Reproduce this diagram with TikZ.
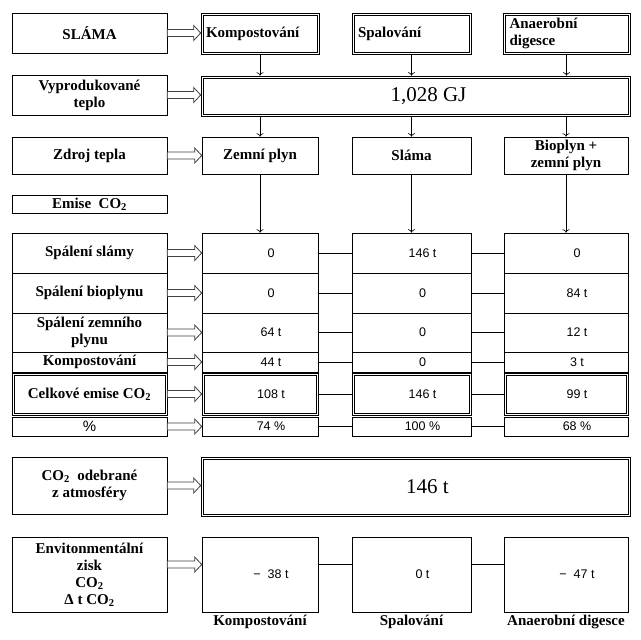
\documentclass[tikz,border=0pt]{standalone}
\usepackage{fontspec}
\setmainfont{Liberation Serif}
\newfontfamily\zahlfont{Liberation Sans}
\usetikzlibrary{positioning, calc, arrows.meta}
\newcommand{\cotwo}{CO\textsubscript{2}}
\tikzset{
    kasten/.style={
        draw=black,          % schlichte schwarze Kontur
        line width=0.6pt,
        align=center,
        inner sep=2pt,
        font=\fontsize{15}{17}\selectfont\bfseries
    },
    % Doppelrahmen: zweites Rechteck 2pt nach innen versetzt
    doppelkasten/.style={kasten,
        append after command={\pgfextra{\draw[line width=0.6pt]
            ([shift={(2.2pt,-2.2pt)}]\tikzlastnode.north west) rectangle
            ([shift={(-2.2pt,2.2pt)}]\tikzlastnode.south east);}}
    },
    zahl/.style={font=\zahlfont\fontsize{12.5}{14}\selectfont},
    gross/.style={font=\fontsize{21}{24}\selectfont},
    titel/.style={font=\fontsize{15}{17}\selectfont\bfseries, inner sep=1pt},
    pfeil/.style={-{To[length=3.5pt,width=7pt]}, line width=0.6pt},
    linie/.style={line width=0.6pt},
    hohl/.style={draw=black!75, line width=0.8pt, fill=white}
}
% Hohlpfeil von Knoten #2 (Ostseite) zu Knoten #3 (Westseite), #1 = Versatz
\newcommand{\hohlpfeil}[3][0pt]{%
    \path (#2.east) coordinate (hp@a) (#3.west) coordinate (hp@b);
    \draw[hohl] let \p1=(hp@a), \p2=(hp@b) in
        (\x1,{\y1+#1+3.5pt}) -- ({\x2-7pt},{\y1+#1+3.5pt}) -- ({\x2-7pt},{\y1+#1+7.5pt})
        -- (\x2,{\y1+#1}) -- ({\x2-7pt},{\y1+#1-7.5pt}) -- ({\x2-7pt},{\y1+#1-3.5pt})
        -- (\x1,{\y1+#1-3.5pt}) -- cycle;
}
% Zahlen stehen etwas rechts der Mitte
\newcommand{\rechts}[1]{\hspace*{22pt}#1}
\begin{document}
\begin{tikzpicture}[x=1pt, y=-1pt]

    \useasboundingbox (0,0) rectangle (641,640);

    % linke Spalte: Beschriftungen
    \node[kasten, minimum width=155pt, minimum height=40pt] (slama) at (89.5,33) {SLÁMA};
    \node[kasten, minimum width=155pt, minimum height=40pt] (teplo) at (89.5,95) {Vyprodukované\\teplo};
    \node[kasten, minimum width=155pt, minimum height=37pt] (zdroj) at (89.5,155.5) {Zdroj tepla};
    \node[kasten, minimum width=155pt, minimum height=18pt] (emise) at (89.5,204) {Emise\ \ \cotwo};

    % obere Zeile: die drei Verfahren
    \node[doppelkasten, minimum width=118pt, minimum height=41pt, text width=108pt, align=left] (kompost) at (260,33.5) {Kompostování};
    \node[doppelkasten, minimum width=119pt, minimum height=41pt, text width=107pt, align=left] (spal) at (411.5,33.5) {Spalování};
    \node[doppelkasten, minimum width=127pt, minimum height=41pt, text width=114pt, align=left] (anaer) at (566.5,33.5) {Anaerobní\\digesce};

    \node[doppelkasten, gross, minimum width=429pt, minimum height=40pt] (gj) at (415.5,96) {\hspace{26pt}1,028 GJ};

    \node[kasten, minimum width=116pt, minimum height=37pt] (zemni) at (260,155.5) {Zemní plyn};
    \node[kasten, minimum width=119pt, minimum height=37pt] (slama2) at (411.5,155.5) {Sláma};
    \node[kasten, minimum width=124pt, minimum height=37pt] (biop) at (566,155.5) {Bioplyn +\\zemní plyn};

    \hohlpfeil{slama}{kompost}
    \hohlpfeil{teplo}{gj}
    \hohlpfeil{zdroj}{zemni}

    \foreach \v in {kompost, spal, anaer} {
        \draw[pfeil] (\v.south) -- (\v.south |- gj.north);
    }
    \foreach \v in {zemni, slama2, biop} {
        \draw[pfeil] (\v.north |- gj.south) -- (\v.north);
    }

    % Tabelle der Emissionen: Nummer/y/Hoehe/Stil/Titel/Werte
    \foreach \nr/\y/\h/\art/\titel/\wa/\wb/\wc in {
        1/253/40/kasten/{Spálení slámy}/0/{146 t}/0,
        2/293/40/kasten/{Spálení bioplynu}/0/0/{84 t},
        3/332.5/39/kasten/{Spálení zemního\\plynu}/{64 t}/0/{12 t},
        4/362/20/kasten/{Kompostování}/{44 t}/0/{3 t},
        5/394/42/doppelkasten/{Celkové emise \cotwo}/{108 t}/{146 t}/{99 t},
        6/426.5/19/kasten/{{\zahlfont\mdseries\%}}/{74 \%}/{100 \%}/{68 \%}} {
        \node[\art, minimum width=155pt, minimum height=\h pt] (l\nr) at (89.5,\y) {\titel};
        \node[\art, zahl, minimum width=116pt, minimum height=\h pt] (a\nr) at (260,\y) {\rechts{\wa}};
        \node[\art, zahl, minimum width=119pt, minimum height=\h pt] (b\nr) at (411.5,\y) {\rechts{\wb}};
        \node[\art, zahl, minimum width=124pt, minimum height=\h pt] (c\nr) at (566,\y) {\rechts{\wc}};
        \draw[linie] (a\nr) -- (b\nr);
        \draw[linie] (b\nr) -- (c\nr);
        \hohlpfeil{l\nr}{a\nr}
    }

    \draw[pfeil] (zemni.south) -- (a1.north);
    \draw[pfeil] (slama2.south) -- (b1.north);
    \draw[pfeil] (biop.south) -- (c1.north);

    % CO2 aus der Atmosphaere
    \node[kasten, minimum width=155pt, minimum height=57pt] (odebr) at (89.5,485.5) {\cotwo\ \ odebrané\\z atmosféry};
    \node[doppelkasten, gross, minimum width=429pt, minimum height=59pt] (atmo) at (415.5,486.5) {\hspace{24pt}146 t};
    \hohlpfeil{odebr}{atmo}

    % Umweltgewinn
    \node[kasten, minimum width=155pt, minimum height=75pt] (zisk) at (89.5,574.5) {Envitonmentální\\zisk\\\cotwo\\Δ t \cotwo};
    \node[kasten, zahl, minimum width=116pt, minimum height=75pt] (e1) at (260,574.5) {\rechts{− \ 38 t}};
    \node[kasten, zahl, minimum width=119pt, minimum height=75pt] (e2) at (411.5,574.5) {\rechts{0 t}};
    \node[kasten, zahl, minimum width=124pt, minimum height=75pt] (e3) at (566,574.5) {\rechts{− \ 47 t}};
    \hohlpfeil[10pt]{zisk}{e1}
    \draw[linie] ([yshift=10pt]e1.east) -- ([yshift=10pt]e2.west);
    \draw[linie] ([yshift=10pt]e2.east) -- ([yshift=10pt]e3.west);

    \node[titel, below=2pt of e1] (t1) {Kompostování};
    \node[titel, below=2pt of e2] (t2) {Spalování};
    \node[titel, below=2pt of e3] (t3) {Anaerobní digesce};

\end{tikzpicture}
\end{document}
